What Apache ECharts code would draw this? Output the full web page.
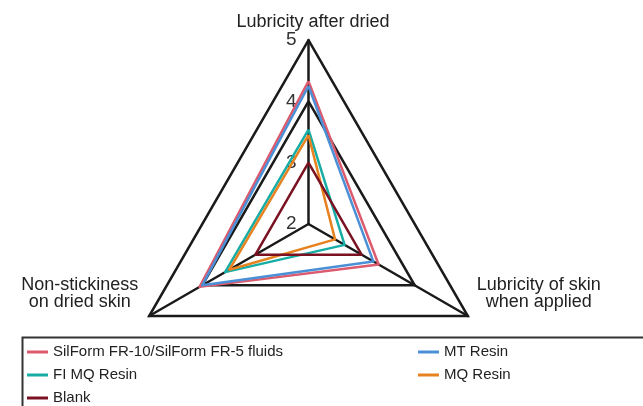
<!DOCTYPE html>
<html>
<head>
<meta charset="utf-8">
<style>html,body{margin:0;padding:0;background:#fff;}#c{width:643px;height:406px;}</style>
<script src="https://cdn.jsdelivr.net/npm/echarts@6/dist/echarts.min.js"></script>
</head>
<body>
<div id="c"></div>
<script>
// Indicators (order: top, bottom-left, bottom-right)
const indicatorNames = ['Lubricity after dried', 'Non-stickiness\non dried skin', 'Lubricity of skin\nwhen applied'];
const axisMin = 2;
const axisMax = 5;
const tickLabels = ['2', '3', '4', '5'];

const seriesNames = ['SilForm FR-10/SilForm FR-5 fluids', 'MT Resin', 'FI MQ Resin', 'MQ Resin', 'Blank'];
const silformValues = [4.33, 4.05, 3.32];
const mtResinValues = [4.25, 4.0, 3.22];
const fiMqValues = [3.54, 3.57, 2.68];
const mqResinValues = [3.45, 3.49, 2.5];
const blankValues = [3.0, 3.0, 3.0];

const colors = {
  'SilForm FR-10/SilForm FR-5 fluids': '#dc5a6d',
  'MT Resin': '#4b90d6',
  'FI MQ Resin': '#17ada5',
  'MQ Resin': '#e6821f',
  'Blank': '#7a1222'
};
const valuesByName = {
  'SilForm FR-10/SilForm FR-5 fluids': silformValues,
  'MT Resin': mtResinValues,
  'FI MQ Resin': fiMqValues,
  'MQ Resin': mqResinValues,
  'Blank': blankValues
};

const FONT = '"Liberation Sans", Arial, Helvetica, sans-serif';
const chart = echarts.init(document.getElementById('c'), null, {renderer: 'canvas'});

const nameStyles = [
  {lineHeight: 12, padding: [0, 0, 0, 9]},
  {align: 'center', verticalAlign: 'middle', padding: [0, 130, 0, 0]},
  {align: 'center', verticalAlign: 'middle', padding: [0, 0, 0, 133]}
];

const legendCommon = {
  orient: 'vertical', top: 343, itemGap: 5, padding: 0, height: 90,
  icon: 'rect', itemWidth: 21, itemHeight: 3,
  textStyle: {fontSize: 15, color: '#222', fontFamily: FONT, lineHeight: 18}
};

const option = {
  animation: false,
  textStyle: {fontFamily: FONT},
  radar: {
    center: [308.5, 224],
    radius: 184,
    startAngle: 90,
    shape: 'polygon',
    splitNumber: 3,
    axisNameGap: 5,
    axisName: {
      color: '#222', fontSize: 18, fontFamily: FONT, lineHeight: 16.5,
      formatter: name => name.indexOf('\n') >= 0 ? name + '\n\n\n' : name
    },
    indicator: indicatorNames.map((n, i) => ({
      name: n, min: axisMin, max: axisMax,
      nameTextStyle: nameStyles[i],
      axisLabel: {show: i === 0}
    })),
    axisLine: {lineStyle: {color: '#1a1a1a', width: 2.5}},
    axisTick: {show: false},
    axisLabel: {
      show: false, color: '#333', fontSize: 19, fontFamily: FONT, margin: 12,
      formatter: v => tickLabels[Math.round(v - axisMin)] || ''
    },
    splitLine: {lineStyle: {color: ['none', 'none', '#1a1a1a', '#1a1a1a'], width: 2.5}},
    splitArea: {show: false}
  },
  legend: [
    Object.assign({}, legendCommon, {left: 27, data: ['SilForm FR-10/SilForm FR-5 fluids', 'FI MQ Resin', 'Blank']}),
    Object.assign({}, legendCommon, {left: 418, data: ['MT Resin', 'MQ Resin']})
  ],
  graphic: [{
    type: 'rect', left: 20, top: 335,
    shape: {width: 640, height: 90},
    style: {fill: 'none', stroke: '#333', lineWidth: 2},
    silent: true
  }],
  series: seriesNames.map(n => ({
    type: 'radar',
    name: n,
    symbol: 'none',
    color: colors[n],
    lineStyle: {color: colors[n], width: 2.5},
    data: [{name: n, value: valuesByName[n]}]
  }))
};
chart.setOption(option);
</script>
</body>
</html>
